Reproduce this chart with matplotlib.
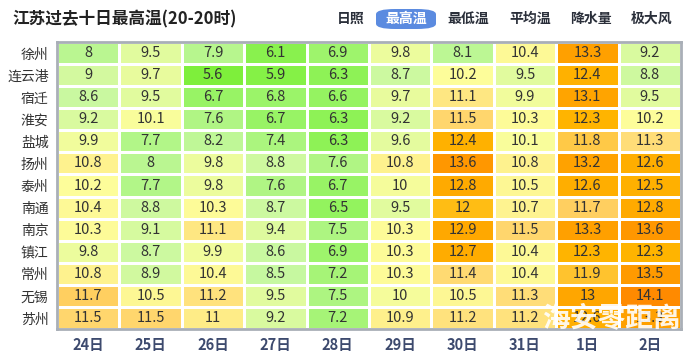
import matplotlib
matplotlib.use("Agg")
import matplotlib.pyplot as plt
import numpy as np
from matplotlib.colors import LinearSegmentedColormap, Normalize
from matplotlib.patches import FancyBboxPatch

plt.rcParams['font.family'] = ['Noto Sans CJK SC', 'DejaVu Sans']

# 数据
cities = ["徐州", "连云港", "宿迁", "淮安", "盐城", "扬州", "泰州",
          "南通", "南京", "镇江", "常州", "无锡", "苏州"]
days = ["24日", "25日", "26日", "27日", "28日", "29日", "30日", "31日", "1日", "2日"]
tmax = [
    [8, 9.5, 7.9, 6.1, 6.9, 9.8, 8.1, 10.4, 13.3, 9.2],
    [9, 9.7, 5.6, 5.9, 6.3, 8.7, 10.2, 9.5, 12.4, 8.8],
    [8.6, 9.5, 6.7, 6.8, 6.6, 9.7, 11.1, 9.9, 13.1, 9.5],
    [9.2, 10.1, 7.6, 6.7, 6.3, 9.2, 11.5, 10.3, 12.3, 10.2],
    [9.9, 7.7, 8.2, 7.4, 6.3, 9.6, 12.4, 10.1, 11.8, 11.3],
    [10.8, 8, 9.8, 8.8, 7.6, 10.8, 13.6, 10.8, 13.2, 12.6],
    [10.2, 7.7, 9.8, 7.6, 6.7, 10, 12.8, 10.5, 12.6, 12.5],
    [10.4, 8.8, 10.3, 8.7, 6.5, 9.5, 12, 10.7, 11.7, 12.8],
    [10.3, 9.1, 11.1, 9.4, 7.5, 10.3, 12.9, 11.5, 13.3, 13.6],
    [9.8, 8.7, 9.9, 8.6, 6.9, 10.3, 12.7, 10.4, 12.3, 12.3],
    [10.8, 8.9, 10.4, 8.5, 7.2, 10.3, 11.4, 10.4, 11.9, 13.5],
    [11.7, 10.5, 11.2, 9.5, 7.5, 10, 10.5, 11.3, 13, 14.1],
    [11.5, 11.5, 11, 9.2, 7.2, 10.9, 11.2, 11.2, 12.6, 13.3],
]
tabs = ["日照", "最高温", "最低温", "平均温", "降水量", "极大风"]

data = np.array(tmax)

# 颜色: 绿 -> 浅黄 -> 橙
vmin, vmax = 5.5, 14.2
stops = [(5.5, "#7cef38"), (6.5, "#93f35e"), (7.5, "#aef582"), (8.5, "#c6f8a0"),
         (9.6, "#e4fb9e"), (10.2, "#fdfd9a"), (10.9, "#fef08c"), (11.3, "#ffdd78"),
         (11.7, "#ffd062"), (12.1, "#ffb800"), (13.3, "#ffa000"), (14.2, "#ff8800")]
cmap = LinearSegmentedColormap.from_list(
    "tmax", [((v - vmin) / (vmax - vmin), c) for v, c in stops])

fig = plt.figure(figsize=(6.86, 3.6), dpi=100)
W, H = 686, 360
ax = fig.add_axes([57 / W, 1 - 329 / H, (681 - 57) / W, (329 - 42) / H])

ax.pcolormesh(data, cmap=cmap, norm=Normalize(vmin, vmax),
              edgecolors="white", linewidth=1)
ax.set_xlim(0, len(days))
ax.set_ylim(len(cities), 0)

for i in range(len(cities)):
    for j in range(len(days)):
        ax.text(j + 0.5, i + 0.5, "%g" % data[i, j], ha="center", va="center",
                fontsize=10.5, color="#333333")

ax.set_yticks(np.arange(len(cities)) + 0.5)
ax.set_yticklabels(cities, fontsize=10, color="#333333")
ax.set_xticks(np.arange(len(days)) + 0.5)
ax.set_xticklabels(days, fontsize=10.5, fontweight="bold", color="#3d4a6e")
ax.tick_params(length=0, pad=6)
ax.tick_params(axis="x", pad=6)
for s in ax.spines.values():
    s.set_color("#a9afb7")
    s.set_linewidth(2)

# 标题
fig.text(12 / W, 1 - 19 / H, "江苏过去十日最高温(20-20时)", fontsize=12,
         fontweight="bold", color="#222222", va="center", ha="left")

# 选项卡
tab_x = [351, 406, 468, 530, 591, 652]
for name, x in zip(tabs, tab_x):
    if name == "最高温":
        box = FancyBboxPatch(((x - 30) / W, 1 - 29 / H), 60 / W, 20 / H,
                             boxstyle="round,pad=0,rounding_size=0.028",
                             transform=fig.transFigure, facecolor="#5b8be0",
                             edgecolor="none", mutation_aspect=H / W * 1.0)
        fig.patches.append(box)
        fig.text(x / W, 1 - 19 / H, name, fontsize=10, fontweight="bold",
                 color="white", ha="center", va="center")
    else:
        fig.text(x / W, 1 - 19 / H, name, fontsize=10, fontweight="bold",
                 color="#2a2f3a", ha="center", va="center")

# 水印
fig.text(611 / W, 1 - 318 / H, "海安零距离", fontsize=20, fontweight="bold",
         color="white", alpha=0.9, ha="center", va="center")

fig.savefig("out.png", dpi=100)
